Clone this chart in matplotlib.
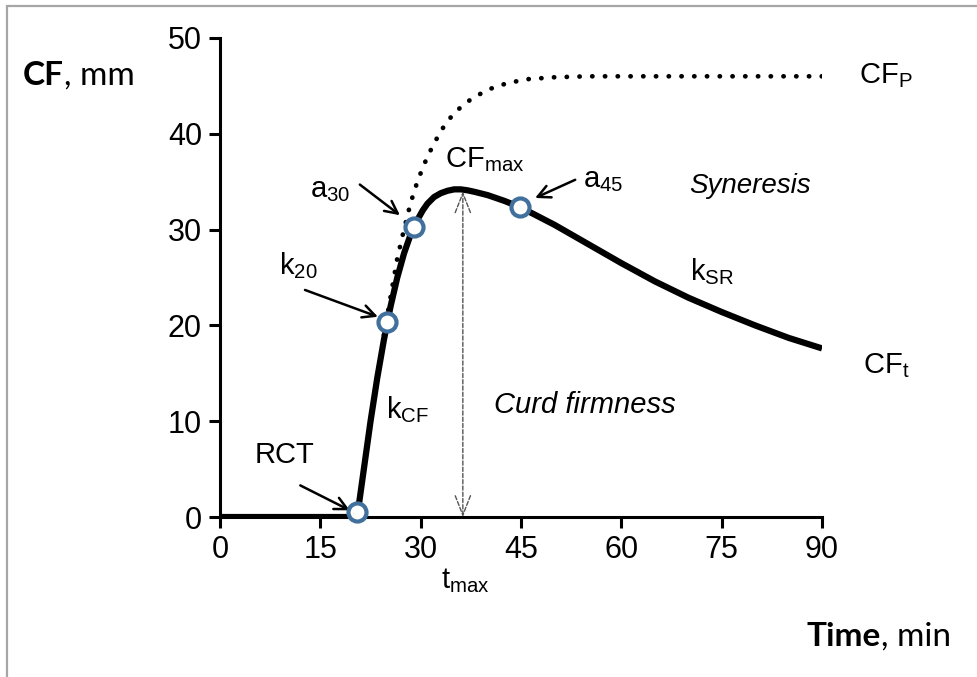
import matplotlib
matplotlib.use("Agg")
import matplotlib.pyplot as plt
from matplotlib.patches import Rectangle

plt.rcParams['font.family'] = ['Liberation Sans', 'DejaVu Sans']
plt.rcParams['mathtext.default'] = 'regular'

# solid curd firmness curve CF_t
time_cf = [0, 20.5, 21.5, 22.5, 23.5, 24.5, 25.5, 26.5, 27.5, 28.5, 29.5, 30.3, 31, 32,
           33, 34, 35, 36, 37, 38, 40, 42.5, 45, 50, 55, 60, 65, 70, 75, 80, 85, 90]
cf_t = [0, 0, 5, 10, 14.5, 18.5, 22, 25, 27.5, 29.5, 31, 32.0, 32.7, 33.4,
        33.8, 34.05, 34.2, 34.2, 34.1, 33.95, 33.6, 33, 32.3, 30.5, 28.5, 26.5, 24.6,
        22.9, 21.4, 20.0, 18.7, 17.6]

# dotted potential curve CF_P
time_p = [24.5, 25.5, 26.5, 27.5, 28.5, 29.5, 30.5, 31.5, 33, 35, 37.5, 40, 43, 46,
          50, 55, 60, 70, 80, 90]
cf_p = [19, 23, 27, 30, 32.8, 35, 36.8, 38.3, 40.3, 42.2, 43.6, 44.6, 45.3, 45.7,
        45.9, 46.0, 46.0, 46.0, 46.0, 46.0]

# marked points: RCT, k20, a30, a45
pt_labels = ['RCT', 'k$_{20}$', 'a$_{30}$', 'a$_{45}$']
pt_time = [20.5, 25, 29, 44.8]
pt_cf = [0.5, 20.4, 30.3, 32.4]

t_max = 36.3
cf_max = 34.0

x_ticks = [0, 15, 30, 45, 60, 75, 90]
y_ticks = [0, 10, 20, 30, 40, 50]

fig = plt.figure(figsize=(9.78, 6.77), dpi=100)
ax = fig.add_axes([0.225, 0.2363, 0.6155, 0.7076])

# light grey frame around the whole picture
fig.patches.append(Rectangle((0.0072, -0.1), 1.2, 1.0911, transform=fig.transFigure,
                             fill=False, edgecolor='#a6a6a6', linewidth=1.6))

ax.plot(time_p, cf_p, color='black', linewidth=3.4, linestyle=(0, (0.05, 2.65)),
        dash_capstyle='round', zorder=2)
ax.plot(time_cf, cf_t, color='black', linewidth=4.5, solid_capstyle='butt',
        solid_joinstyle='round', zorder=3)
ax.plot(pt_time, pt_cf, linestyle='none', marker='o', markersize=13,
        markerfacecolor='white', markeredgecolor='#41709c', markeredgewidth=3, zorder=5,
        clip_on=False)

# vertical curd firmness arrow
ax.annotate('', xy=(t_max, cf_max), xytext=(t_max, 0),
            arrowprops=dict(arrowstyle='<->,head_length=1.4,head_width=0.55',
                            color='#555555', linewidth=1.0, linestyle=(0, (3, 1.5)),
                            shrinkA=0, shrinkB=0))

fs = 21
arrow_kw = dict(arrowstyle='->,head_length=0.9,head_width=0.45', color='black',
                linewidth=1.8, shrinkA=0, shrinkB=0)

# label text positions, arrow tails, arrow heads
label_xy = [(9.7, 6.5), (11.7, 26.2), (16.4, 34.1), (57.3, 35.2)]
tail_xy = [(12, 3.3), (12.7, 23.7), (20.9, 34.7), (53.1, 35.2)]
head_xy = [(19.4, 0.7), (23.6, 20.9), (26.9, 31.5), (47.1, 33.3)]
for lab, lxy, txy, hxy in zip(pt_labels, label_xy, tail_xy, head_xy):
    ax.text(lxy[0], lxy[1], lab, fontsize=fs, ha='center', va='center')
    ax.annotate('', xy=hxy, xytext=txy, arrowprops=arrow_kw)

ax.text(39.6, 37.3, 'CF$_{max}$', fontsize=fs, ha='center', va='center')
ax.text(79.2, 34.6, 'Syneresis', fontsize=fs - 1, style='italic', ha='center', va='center')
ax.text(73.6, 25.6, 'k$_{SR}$', fontsize=fs, ha='center', va='center')
ax.text(28.0, 11.2, 'k$_{CF}$', fontsize=fs, ha='center', va='center')
ax.text(54.6, 11.7, 'Curd firmness', fontsize=fs, style='italic', ha='center', va='center')
ax.text(99.6, 15.8, 'CF$_t$', fontsize=fs, ha='center', va='center', clip_on=False)
ax.text(99.6, 46.1, 'CF$_P$', fontsize=fs, ha='center', va='center', clip_on=False)
ax.text(36.6, -6.6, 't$_{max}$', fontsize=fs, ha='center', va='center', clip_on=False)

# axis titles: bold symbol + regular unit
title_font = ['Lato', 'DejaVu Sans']
tfs = 24
ax.text(-23.3, 46.1, 'CF', fontsize=tfs, family=title_font, weight='bold',
        ha='right', va='center', clip_on=False)
ax.text(-23.3, 46.1, ', mm', fontsize=tfs, family=title_font,
        ha='left', va='center', clip_on=False)
ax.text(98.8, -12.5, 'Time', fontsize=tfs, family=title_font, weight='bold',
        ha='right', va='center', clip_on=False)
ax.text(98.8, -12.5, ', min', fontsize=tfs, family=title_font,
        ha='left', va='center', clip_on=False)

ax.set_xlim(0, 90)
ax.set_ylim(0, 50)
ax.set_xticks(x_ticks)
ax.set_yticks(y_ticks)
ax.tick_params(axis='both', direction='out', length=8, width=2.2, labelsize=22,
               colors='black', pad=5)
for side in ['top', 'right']:
    ax.spines[side].set_visible(False)
for side in ['left', 'bottom']:
    ax.spines[side].set_linewidth(2.2)

fig.savefig('out.png', dpi=100)
